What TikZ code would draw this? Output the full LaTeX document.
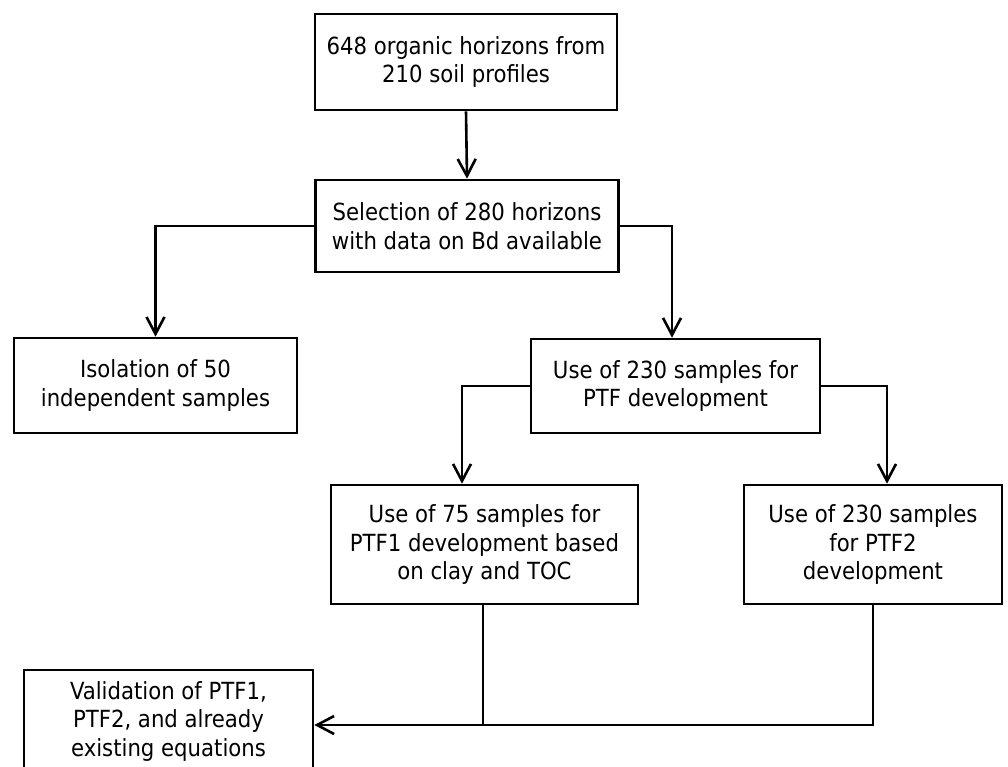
\documentclass[tikz,border=0pt]{standalone}
\usepackage{fontspec}
\setmainfont{DejaVu Sans Condensed}
\usetikzlibrary{arrows.meta,calc}
\begin{document}
\begin{tikzpicture}[x=1pt,y=-1pt,
  box/.style={draw,line width=2.6pt,align=center,inner sep=0pt,
    font=\fontsize{23.6}{28.5}\selectfont},
  arr/.style={line width=2.6pt,-{Straight Barb[length=17pt,width=18pt,line width=2.6pt]}},
  ln/.style={line width=2.6pt}]
\useasboundingbox (0,0) rectangle (1008,767);
\node[box,minimum width=302pt,minimum height=96pt] (n1) at (466,62) {648 organic horizons from\\210 soil profiles};
\node[box,minimum width=303pt,minimum height=92pt] (n2) at (467,226) {Selection of 280 horizons\\with data on Bd available};
\node[box,minimum width=283pt,minimum height=95pt] (n3) at (155.5,385.5) {Isolation of 50\\independent samples};
\node[box,minimum width=289pt,minimum height=94pt] (n4) at (675.5,386) {Use of 230 samples for\\PTF development};
\node[box,minimum width=307pt,minimum height=119pt] (n5) at (484.5,544.5) {Use of 75 samples for\\PTF1 development based\\on clay and TOC};
\node[box,minimum width=258pt,minimum height=119pt] (n6) at (873,544.5) {Use of 230 samples\\for PTF2\\development};
\node[box,minimum width=289pt,minimum height=102pt] (n7) at (168.5,721) {Validation of PTF1,\\PTF2, and already\\existing equations};
\draw[arr] (n1.south) -- (n2.north);
\draw[arr] (n2.west) -| (n3.north);
\draw[arr] (n2.east) -| ($(n4.north)+(-3.5,0)$);
\draw[arr] (n4.west) -| ($(n5.north)+(-22.5,0)$);
\draw[arr] (n4.east) -| ($(n6.north)+(14,0)$);
\coordinate (j) at (483,725);
\draw[ln] (n5.south -| j) -- (j);
\draw[ln] (n6.south) |- (j);
\draw[arr] (j) -- (n7.east |- j);
\end{tikzpicture}
\end{document}
